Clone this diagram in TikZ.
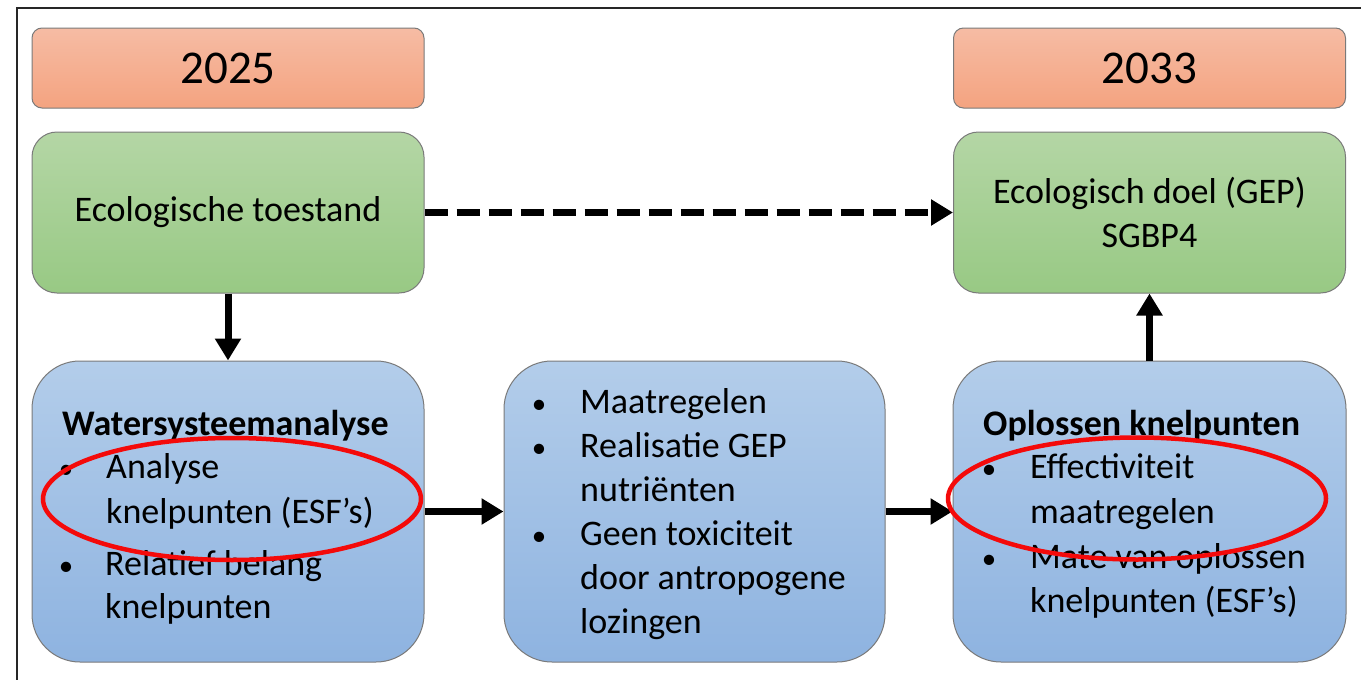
\documentclass[tikz,border=0pt]{standalone}
\usepackage{fontspec}
\setmainfont{Carlito}
\usetikzlibrary{arrows.meta}
\definecolor{orT}{HTML}{F6BCA4}
\definecolor{orB}{HTML}{F4A380}
\definecolor{grT}{HTML}{B4D6A5}
\definecolor{grB}{HTML}{98C984}
\definecolor{blT}{HTML}{B3CDEA}
\definecolor{blB}{HTML}{8EB3E0}
\definecolor{bord}{HTML}{7A7A7A}
\definecolor{ellred}{HTML}{F40A0A}
\tikzset{
  yearbox/.style={draw=bord, line width=1pt, rounded corners=10pt, top color=orT, bottom color=orB,
    minimum width=392pt, minimum height=80pt, inner sep=0pt, font=\fontsize{47}{56}\selectfont},
  greenbox/.style={draw=bord, line width=1pt, rounded corners=25pt, top color=grT, bottom color=grB,
    minimum width=392pt, minimum height=161pt, inner sep=0pt, align=center, font=\fontsize{36}{44}\selectfont},
  bluebox/.style={draw=bord, line width=1pt, rounded corners=48pt, top color=blT, bottom color=blB,
    minimum height=301pt, inner sep=0pt},
  txt/.style={anchor=base west, inner sep=0pt, font=\fontsize{36}{44}\selectfont},
  bul/.style={anchor=base, inner sep=0pt, font=\fontsize{29}{44}\selectfont},
  conn/.style={line width=7pt, -{Triangle[length=22pt,width=25pt]}},
  dconn/.style={conn, dash pattern=on 23pt off 9pt},
  mark ell/.style={draw=ellred, line width=4.5pt},
}
\begin{document}
\begin{tikzpicture}[x=1pt,y=-1pt]
\useasboundingbox (0,0) rectangle (1361,680);
\fill[white] (0,0) rectangle (1361,680);
\draw[line width=2pt, black!85] (17,680) -- (17,8) -- (1361,8);

% year boxes
\node[yearbox] (y1) at (228,68) {2025};
\node[yearbox] (y2) at (1149.5,68) {2033};

% green boxes
\node[greenbox] (g1) at (228,212.5) {Ecologische toestand};
\node[greenbox] (g2) at (1149.5,212.5) {Ecologisch doel (GEP)\\SGBP4};

% blue boxes
\node[bluebox, minimum width=392pt] (b1) at (228,511.5) {};
\node[bluebox, minimum width=381pt] (b2) at (694.5,511.5) {};
\node[bluebox, minimum width=393pt] (b3) at (1149.5,511.5) {};

% left box text
\node[txt] (l1) at (62,435) {\textbf{Watersysteemanalyse}};
\node[bul] (lb1) at (66,478) {\textbullet};
\node[txt] (l2) at (106,478) {Analyse};
\node[txt] (l3) at (106,523) {knelpunten (ESF’s)};
\node[bul] (lb2) at (66,575) {\textbullet};
\node[txt] (l4) at (105,575) {Relatief belang};
\node[txt] (l5) at (105,618) {knelpunten};

% middle box text
\node[bul] (mb1) at (539,413) {\textbullet};
\node[txt] (m1) at (580,413) {Maatregelen};
\node[bul] (mb2) at (539,457) {\textbullet};
\node[txt] (m2) at (580,457) {Realisatie GEP};
\node[txt] (m3) at (580,501) {nutriënten};
\node[bul] (mb3) at (539,545) {\textbullet};
\node[txt] (m4) at (580,545) {Geen toxiciteit};
\node[txt] (m5) at (580,589) {door antropogene};
\node[txt] (m6) at (580,633) {lozingen};

% right box text
\node[txt] (r1) at (983,435) {\textbf{Oplossen knelpunten}};
\node[bul] (rb1) at (989,478) {\textbullet};
\node[txt] (r2) at (1030,478) {Effectiviteit};
\node[txt] (r3) at (1030,523) {maatregelen};
\node[bul] (rb2) at (989,568) {\textbullet};
\node[txt] (r4) at (1030,568) {Mate van oplossen};
\node[txt] (r5) at (1030,612) {knelpunten (ESF’s)};

% connectors
\draw[dconn] (g1.east) -- (g2.west);
\draw[conn] (g1.south) -- (b1.north);
\draw[conn] (b3.north) -- (g2.south);
\draw[conn] (b1.east) -- (b2.west);
\draw[conn] (b2.east) -- (b3.west);

% red ellipses
\draw[mark ell] (232,499) ellipse [x radius=189, y radius=61];
\draw[mark ell] (1137,498.5) ellipse [x radius=189, y radius=61];
\end{tikzpicture}
\end{document}
